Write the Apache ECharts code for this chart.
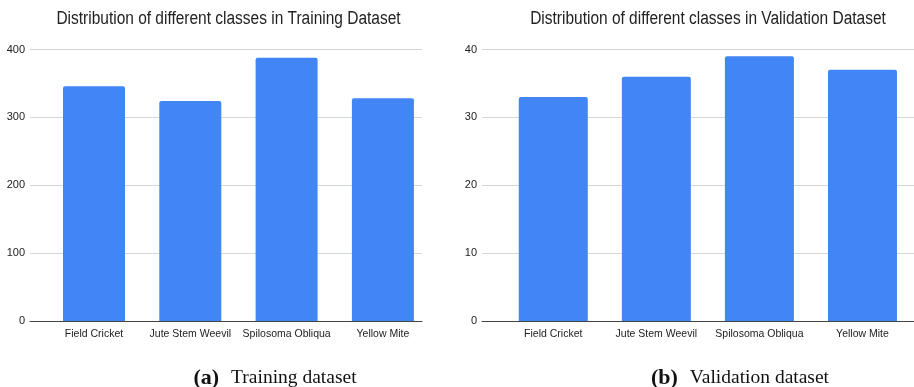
<!DOCTYPE html>
<html>
<head>
<meta charset="utf-8">
<script src="https://cdn.jsdelivr.net/npm/echarts@6/dist/echarts.min.js"></script>
<style>
html,body{margin:0;padding:0;background:#fff;}
#c{width:914px;height:387px;}
</style>
</head>
<body>
<div id="c"></div>
<script>
const categories = ['Field Cricket', 'Jute Stem Weevil', 'Spilosoma Obliqua', 'Yellow Mite'];
const trainCounts = [346, 324, 388, 328];
const valCounts = [33, 36, 39, 37];
const trainTitle = 'Distribution of different classes in Training Dataset';
const valTitle = 'Distribution of different classes in Validation Dataset';
const trainCaption = ['(a)', 'Training dataset'];
const valCaption = ['(b)', 'Validation dataset'];
const trainAxis = {min: 0, max: 400, interval: 100};
const valAxis = {min: 0, max: 40, interval: 10};

const SANS = '"Liberation Sans", Arial, sans-serif';
const SERIF = '"Liberation Serif", "Times New Roman", serif';
const BLUE = '#4285F4';

const chart = echarts.init(document.getElementById('c'), null, {renderer: 'canvas'});

const TOP = 49.5, BOTTOM = 387 - 321;

function bgX(gi) {
  return {
    type: 'category', gridIndex: gi, data: categories,
    axisLine: {show: true, lineStyle: {color: '#444', width: 1}},
    axisTick: {show: false}, axisLabel: {show: false}, splitLine: {show: false}
  };
}
function fgX(gi) {
  return {
    type: 'category', gridIndex: gi, data: categories,
    axisLine: {show: false}, axisTick: {show: false},
    axisLabel: {show: true, interval: 0, margin: 8, color: '#222', fontSize: 10.5, fontFamily: SANS}
  };
}
function bgY(gi, ax) {
  return {
    type: 'value', gridIndex: gi, min: ax.min, max: ax.max, interval: ax.interval,
    axisLine: {show: false}, axisTick: {show: false},
    axisLabel: {show: true, margin: 5, color: '#222', fontSize: 11, fontFamily: SANS},
    splitLine: {show: true, lineStyle: {color: '#d6d6d6', width: 1}}
  };
}
function fgY(gi, ax) {
  return {
    type: 'value', gridIndex: gi, min: ax.min, max: ax.max, interval: ax.interval,
    show: false, splitLine: {show: false}
  };
}

function captionTitle(parts, x) {
  return {
    text: '{b|' + parts[0] + '}{g|}{n|' + parts[1] + '}',
    left: x, top: 362, textAlign: 'center',
    textStyle: {
      fontWeight: 'normal',
      rich: {
        b: {fontFamily: SERIF, fontWeight: 'bold', fontSize: 22, color: '#111'},
        g: {width: 12},
        n: {fontFamily: SERIF, fontWeight: 'normal', fontSize: 19.5, color: '#111'}
      }
    }
  };
}

function headText(txt, cx) {
  return {
    type: 'text', x: cx, y: 10, scaleX: 0.86, scaleY: 1, silent: true,
    style: {
      text: txt, fill: '#222', font: 'normal 18px ' + SANS,
      textAlign: 'center', textVerticalAlign: 'top'
    }
  };
}

const option = {
  animation: false,
  backgroundColor: '#ffffff',
  title: [
    captionTitle(trainCaption, 270),
    captionTitle(valCaption, 735)
  ],
  graphic: [headText(trainTitle, 228.5), headText(valTitle, 708)],
  grid: [
    {left: 30, width: 392, top: TOP, bottom: BOTTOM},
    {left: 45.85, width: 385.2, top: TOP, bottom: BOTTOM},
    {left: 482, width: 432, top: TOP, bottom: BOTTOM},
    {left: 501.75, width: 428.4, top: TOP, bottom: BOTTOM}
  ],
  xAxis: [bgX(0), fgX(1), bgX(2), fgX(3)],
  yAxis: [bgY(0, trainAxis), fgY(1, trainAxis), bgY(2, valAxis), fgY(3, valAxis)],
  series: [
    {type: 'bar', xAxisIndex: 1, yAxisIndex: 1, data: trainCounts, barWidth: 62,
     itemStyle: {color: BLUE, borderRadius: [2, 2, 0, 0]}, z: 3},
    {type: 'bar', xAxisIndex: 3, yAxisIndex: 3, data: valCounts, barWidth: 69,
     itemStyle: {color: BLUE, borderRadius: [2, 2, 0, 0]}, z: 3}
  ]
};
chart.setOption(option);
</script>
</body>
</html>
